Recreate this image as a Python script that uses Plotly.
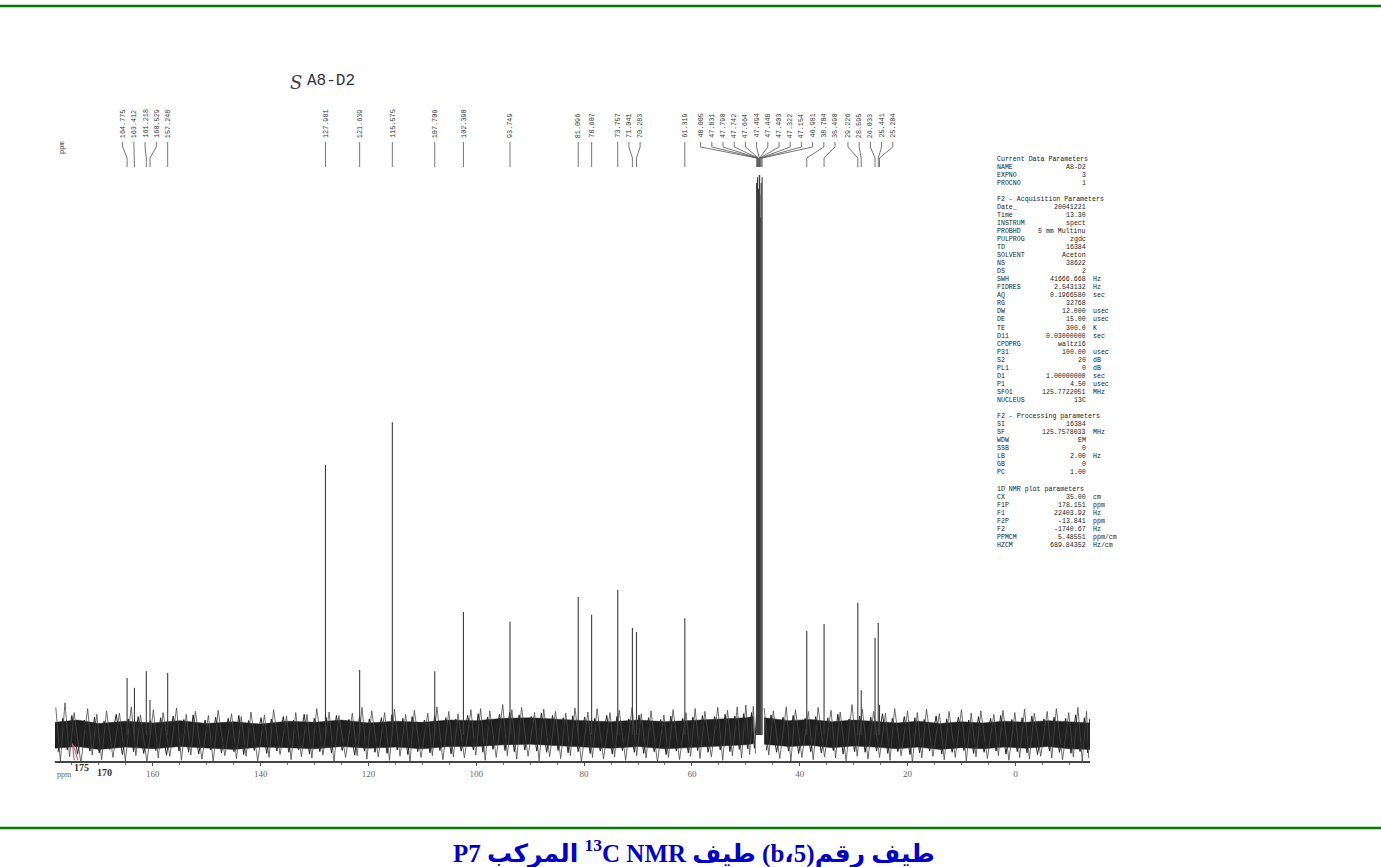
import plotly.graph_objects as go

W, H = 1381, 867

# ---------------- data ----------------
peak_ppm = [164.775, 163.412, 161.218, 160.529, 157.248, 127.981, 121.639, 115.575,
            107.706, 102.390, 93.749, 81.096, 78.607, 73.757, 71.041, 70.283, 61.319,
            48.005, 47.831, 47.790, 47.742, 47.664, 47.494, 47.448, 47.403, 47.322,
            47.154, 46.981, 38.704, 35.490, 29.226, 28.595, 26.033, 25.441, 25.204]
peak_int = [9.9, 8.2, 11.1, 6.1, 10.8, 47.0, 11.3, 54.4,
            11.1, 21.4, 19.7, 24.0, 20.9, 25.2, 18.6, 17.9, 20.3,
            96.0, 97.0, 88.0, 92.0, 95.0, 100.0, 98.0, 94.0, 90.0,
            96.0, 97.0, 18.1, 19.3, 23.0, 7.8, 16.9, 19.5, 5.2]

# baseline noise: positions of the main spikes with their tops (hi) and the following dips (lo)
noise_ppm_left = [178.0, 176.3, 174.6, 172.1, 170.4, 168.6, 166.2, 164.0, 162.3, 159.9,
                  158.1, 155.6, 153.8, 152.1, 149.7, 147.9, 145.4, 143.6, 141.8, 139.3,
                  137.6, 135.2, 133.5, 131.4, 129.6, 127.3, 125.5, 123.0, 121.2, 119.4,
                  117.0, 115.2, 113.1, 111.5, 109.0, 107.3, 105.1, 103.4, 101.0, 99.2,
                  97.5, 95.1, 93.4, 91.6, 89.2, 87.5, 85.3, 83.4, 81.7, 79.3,
                  77.6, 75.2, 73.5, 71.1, 69.4, 67.6, 65.2, 63.5, 61.1, 59.4,
                  57.6, 55.2, 53.4, 51.6, 50.0, 48.6]
noise_hi_left = [4.8, 5.6, 3.9, 4.6, 3.6, 4.2, 3.8, 4.9, 3.5, 4.4,
                 3.9, 4.7, 3.6, 4.1, 3.4, 4.3, 3.7, 3.2, 4.0, 3.5,
                 4.4, 3.3, 3.9, 3.6, 4.6, 4.0, 3.4, 3.8, 4.8, 4.2,
                 3.9, 4.5, 3.6, 4.3, 3.8, 4.9, 4.1, 3.7, 4.4, 4.6,
                 4.2, 5.3, 4.4, 4.8, 3.9, 4.5, 4.1, 3.8, 4.7, 4.0,
                 4.6, 3.9, 4.3, 4.8, 3.7, 4.2, 3.5, 4.4, 3.9, 4.6,
                 4.1, 4.8, 4.3, 4.9, 5.2, 5.0]
noise_lo_left = [-4.6, -3.8, -4.9, -3.5, -4.3, -3.9, -4.5, -3.6, -4.7, -4.0,
                 -3.7, -4.4, -3.5, -4.2, -4.8, -3.6, -4.1, -3.7, -4.5, -3.9,
                 -3.4, -4.3, -3.8, -4.0, -3.5, -4.6, -3.9, -3.6, -4.2, -3.8,
                 -4.4, -3.7, -4.9, -3.9, -3.6, -4.3, -3.8, -4.0, -3.5, -4.4,
                 -3.9, -3.6, -4.2, -3.7, -4.5, -3.8, -4.1, -3.6, -4.6, -3.9,
                 -4.2, -3.8, -4.4, -3.6, -4.0, -4.7, -3.9, -4.3, -3.7, -4.1,
                 -3.8, -4.4, -3.6, -4.0, -3.4, -3.2]
noise_ppm_right = [46.6, 44.9, 42.5, 40.8, 38.4, 36.6, 34.2, 32.5, 30.3, 28.4,
                   26.3, 24.1, 22.4, 20.0, 18.2, 16.5, 14.1, 12.3, 10.0, 8.2,
                   6.4, 4.0, 2.3, 0.1, -1.7, -3.5, -5.9, -7.6, -9.9, -11.6, -13.2]
noise_hi_right = [4.7, 4.2, 4.9, 4.4, 4.1, 4.8, 4.3, 4.0, 5.3, 4.5,
                  4.1, 3.8, 4.6, 4.2, 3.9, 4.5, 3.7, 4.1, 4.4, 3.8,
                  4.2, 3.6, 4.3, 3.9, 4.5, 3.8, 4.1, 4.6, 3.9, 4.8, 4.1]
noise_lo_right = [-3.5, -4.1, -4.6, -3.9, -4.3, -3.8, -4.0, -4.5, -3.7, -4.2,
                  -3.9, -4.4, -3.6, -4.8, -4.0, -3.7, -4.3, -3.9, -4.5, -3.8,
                  -4.1, -3.6, -4.4, -3.9, -4.2, -3.7, -4.0, -4.3, -3.8, -4.6, -4.0]
# smaller excursions between the main spikes
noise_mid_hi = [2.9, 3.4, 2.6, 3.1, 2.4, 3.6, 2.8, 3.2, 2.5, 3.0,
                3.3, 2.7, 3.5, 2.6, 3.1, 2.9, 3.4, 2.5, 3.0, 2.8,
                3.2, 2.6, 3.6, 2.9, 3.1, 3.4, 2.7, 3.3, 2.8, 3.0,
                3.5, 2.9, 3.2, 2.6, 3.3, 3.0, 2.8, 3.4, 3.7, 3.1,
                3.6, 3.9, 3.5, 3.2, 3.8, 3.4, 3.0, 3.3, 3.1, 2.9,
                3.4, 3.2, 2.8, 3.5, 3.0, 2.7, 3.3, 2.9, 3.1, 3.4,
                3.2, 3.6, 3.3, 3.7, 3.9, 3.6]
noise_mid_lo = [-3.0, -2.6, -3.3, -2.8, -3.1, -2.5, -3.4, -2.9, -3.2, -2.7,
                -3.5, -2.8, -3.0, -3.3, -2.6, -3.1, -2.9, -3.4, -2.7, -3.2,
                -2.8, -3.0, -2.6, -3.3, -2.9, -3.1, -2.7, -3.5, -2.8, -3.0,
                -3.2, -2.6, -3.4, -2.9, -3.1, -2.7, -3.3, -2.8, -2.6, -3.0,
                -2.5, -2.7, -2.9, -2.6, -2.8, -3.0, -2.7, -3.1, -2.9, -3.2,
                -2.8, -3.3, -2.7, -3.0, -3.2, -2.9, -3.4, -2.8, -3.1, -2.7,
                -3.0, -2.6, -2.9, -2.5, -2.4, -2.3]
noise_mid_hi_r = [3.5, 3.1, 3.4, 2.9, 3.2, 3.0, 3.6, 2.8, 3.3, 3.1,
                  3.7, 2.9, 3.2, 3.0, 2.7, 3.3, 2.8, 3.1, 2.6, 3.2,
                  2.9, 3.4, 2.7, 3.0, 3.3, 2.8, 3.1, 2.9, 3.5, 3.0, 2.8]
noise_mid_lo_r = [-2.6, -3.0, -2.8, -3.2, -2.9, -3.1, -2.7, -3.3, -2.9, -3.0,
                  -2.8, -3.2, -2.9, -3.4, -3.1, -2.8, -3.3, -3.0, -2.7, -3.2,
                  -3.0, -2.8, -3.3, -2.9, -3.1, -3.4, -2.8, -3.0, -3.2, -2.9, -3.1]
# dense core of the noise band
core_ppm_left = [178.151, 174, 170, 165, 160, 155, 150, 145, 140, 135, 130, 125, 120, 115,
                 110, 105, 100, 95, 90, 85, 80, 75, 70, 65, 60, 55, 50, 48.6]
core_hi_left = [2.2, 2.6, 2.0, 2.4, 2.1, 2.5, 2.0, 2.3, 1.9, 2.4, 2.2, 2.6, 2.1, 2.4,
                2.2, 2.6, 2.5, 2.9, 3.0, 2.7, 2.5, 2.3, 2.6, 2.3, 2.5, 2.8, 3.0, 3.2]
core_lo_left = [-2.3, -2.0, -2.5, -2.1, -2.4, -2.0, -2.3, -2.5, -2.1, -2.2, -2.4, -2.0, -2.3, -2.1,
                -2.4, -2.0, -2.0, -1.7, -1.6, -1.9, -2.1, -2.3, -2.0, -2.4, -2.1, -1.9, -1.7, -1.5]
core_ppm_right = [46.6, 42, 38, 34, 30, 26, 22, 18, 14, 10, 6, 2, -2, -6, -10, -13.841]
core_hi_right = [3.0, 2.5, 2.7, 2.3, 2.6, 2.4, 2.1, 2.4, 2.0, 2.3, 2.1, 2.4, 2.2, 2.5, 2.3, 2.1]
core_lo_right = [-1.6, -2.0, -1.8, -2.2, -1.9, -2.1, -2.4, -2.1, -2.5, -2.2, -2.4, -2.1, -2.3, -2.0, -2.4, -2.5]

x_ticks = [160, 140, 120, 100, 80, 60, 40, 20, 0]
hand_labels = ["175", "170"]
hand_label_ppm = [175, 170]

params = [
    ("Current Data Parameters", "", ""), ("NAME", "A8-D2", ""), ("EXPNO", "3", ""),
    ("PROCNO", "1", ""), None,
    ("F2 - Acquisition Parameters", "", ""), ("Date_", "20041221", ""), ("Time", "13.30", ""),
    ("INSTRUM", "spect", ""), ("PROBHD", "5 mm Multinu", ""), ("PULPROG", "zgdc", ""),
    ("TD", "16384", ""), ("SOLVENT", "Aceton", ""), ("NS", "38622", ""), ("DS", "2", ""),
    ("SWH", "41666.668", "Hz"), ("FIDRES", "2.543132", "Hz"), ("AQ", "0.1966580", "sec"),
    ("RG", "32768", ""), ("DW", "12.000", "usec"), ("DE", "15.00", "usec"),
    ("TE", "300.0", "K"), ("D11", "0.03000000", "sec"), ("CPDPRG", "waltz16", ""),
    ("P31", "100.00", "usec"), ("S2", "20", "dB"), ("PL1", "0", "dB"),
    ("D1", "1.00000000", "sec"), ("P1", "4.50", "usec"), ("SFO1", "125.7722051", "MHz"),
    ("NUCLEUS", "13C", ""), None,
    ("F2 - Processing parameters", "", ""), ("SI", "16384", ""),
    ("SF", "125.7578033", "MHz"), ("WDW", "EM", ""), ("SSB", "0", ""),
    ("LB", "2.00", "Hz"), ("GB", "0", ""), ("PC", "1.00", ""), None,
    ("1D NMR plot parameters", "", ""), ("CX", "35.00", "cm"), ("F1P", "178.151", "ppm"),
    ("F1", "22403.92", "Hz"), ("F2P", "-13.841", "ppm"), ("F2", "-1740.67", "Hz"),
    ("PPMCM", "5.48551", "ppm/cm"), ("HZCM", "689.84352", "Hz/cm"),
]

title_text = "A8-D2"
caption = "P7 المركب\u200e <sup>13</sup>C NMR طيف\u200e (b،5)طيف رقم"

# ---------------- layout helpers ----------------
X0, X1 = 55, 1090          # plot area in px
Y_AXIS, Y_TOP = 761, 150
BASE = 735
PX_PER_UNIT = 5.75
F1P, F2P = 178.151, -13.841
ppm_per_px = (F1P - F2P) / (X1 - X0)


def xp(px):
    return px / W


def yp(py):
    return 1 - py / H


fig = go.Figure()

segments = [
    (noise_ppm_left, noise_hi_left, noise_lo_left, noise_mid_hi, noise_mid_lo,
     core_ppm_left, core_hi_left, core_lo_left),
    (noise_ppm_right, noise_hi_right, noise_lo_right, noise_mid_hi_r, noise_mid_lo_r,
     core_ppm_right, core_hi_right, core_lo_right),
]
for nppm, nhi, nlo, mhi, mlo, cppm, chi, clo in segments:
    fig.add_trace(go.Scatter(x=cppm + cppm[::-1], y=chi + clo[::-1], fill="toself",
                             fillcolor="#1e1e1e", mode="lines", line=dict(color="#1e1e1e", width=0.5),
                             hoverinfo="skip", showlegend=False))
    n = len(nppm)
    zx, zy, mx, my = [], [], [], []
    for i in range(n):
        p = nppm[i]
        step = (nppm[i + 1] - p) if i + 1 < n else -0.8
        zx += [p, p + 0.5 * step]
        zy += [nhi[i], nlo[i]]
        mx += [p + 0.25 * step, p + 0.75 * step]
        my += [mlo[i], mhi[i]]
    fig.add_trace(go.Scatter(x=zx, y=zy, mode="lines", line=dict(color="#4a4a4a", width=0.8),
                             hoverinfo="skip", showlegend=False))
    fig.add_trace(go.Scatter(x=mx, y=my, mode="lines", line=dict(color="#262626", width=1),
                             hoverinfo="skip", showlegend=False))

# peaks
px_, py_ = [], []
for p, h in zip(peak_ppm, peak_int):
    px_ += [p, p, None]
    py_ += [0, h, None]
fig.add_trace(go.Scatter(x=px_, y=py_, mode="lines", line=dict(color="#3c3c3c", width=1.1),
                         hoverinfo="skip", showlegend=False))

# little pink pen mark near 175 ppm
fig.add_trace(go.Scatter(x=[174.7, 173.9, None, 174.9, 174.6], y=[-1.8, -4.4, None, -1.5, -4.4],
                         mode="lines", line=dict(color="#d0607a", width=1.2),
                         hoverinfo="skip", showlegend=False))

# ---------------- peak labels: clusters centred on their mean, merged while overlapping ----------------
gap = 11.2 * ppm_per_px
clusters = [[i] for i in sorted(range(len(peak_ppm)), key=lambda k: -peak_ppm[k])]


def place(cl):
    c = sum(peak_ppm[i] for i in cl) / len(cl)
    n = len(cl)
    return [c + gap * (n - 1) / 2 - gap * k for k in range(n)]


changed = True
while changed:
    changed = False
    pos = [place(c) for c in clusters]
    for k in range(len(clusters) - 1):
        if pos[k][-1] - pos[k + 1][0] < gap - 1e-9:
            clusters[k] = clusters[k] + clusters[k + 1]
            del clusters[k + 1]
            changed = True
            break
label_pos = [0.0] * len(peak_ppm)
for cl in clusters:
    for i, lx in zip(cl, place(cl)):
        label_pos[i] = lx

cx, cy = [], []
for i, p in enumerate(peak_ppm):
    lx = label_pos[i]
    cx += [lx, lx, p, p, None]
    cy += [142, 147, 158, 167, None]
fig.add_trace(go.Scatter(x=cx, y=cy, xaxis="x", yaxis="y2", mode="lines",
                         line=dict(color="#555555", width=0.8), hoverinfo="skip", showlegend=False))

annotations = []
for i, p in enumerate(peak_ppm):
    annotations.append(dict(x=label_pos[i], y=140, xref="x", yref="y2", text=f"{p:.3f}",
                            textangle=-90, showarrow=False, xanchor="center", yanchor="bottom",
                            font=dict(family="Liberation Mono", size=6.8, color="#333333")))

# hand written axis labels
annotations.append(dict(x=hand_label_ppm[0], y=yp(767), xref="x", yref="paper",
                        text=f"<b>{hand_labels[0]}</b>", showarrow=False, xanchor="left",
                        yanchor="middle", font=dict(family="Liberation Serif", size=10, color="#333333")))
annotations.append(dict(x=hand_label_ppm[1], y=yp(772), xref="x", yref="paper",
                        text=f"<b>{hand_labels[1]}</b>", showarrow=False, xanchor="left", xshift=-4,
                        yanchor="middle", font=dict(family="Liberation Serif", size=10, color="#333333")))
annotations.append(dict(x=xp(55), y=yp(774), xref="paper", yref="paper", text="ppm",
                        showarrow=False, xanchor="left", yanchor="middle",
                        font=dict(family="Liberation Serif", size=8, color="#666666")))
annotations.append(dict(x=xp(62), y=yp(148), xref="paper", yref="paper", text="ppm",
                        textangle=-90, showarrow=False, xanchor="center", yanchor="middle",
                        font=dict(family="Liberation Mono", size=7, color="#555555")))

# sample title
annotations.append(dict(x=xp(288), y=yp(82), xref="paper", yref="paper",
                        text="<i>S</i>", showarrow=False, xanchor="left", yanchor="middle",
                        font=dict(family="DejaVu Serif", size=18, color="#444444")))
annotations.append(dict(x=xp(305), y=yp(81), xref="paper", yref="paper",
                        text=title_text, showarrow=False, xanchor="left", yanchor="middle",
                        font=dict(family="Liberation Mono", size=16, color="#333333")))

# parameter block
row = 0
for item in params:
    yy = 159 + row * 8.05
    row += 1
    if item is None:
        continue
    name, val, unit = item
    f = dict(family="Liberation Mono", size=6.6, color="#222222")
    annotations.append(dict(x=xp(995), y=yp(yy), xref="paper", yref="paper", text=name,
                            showarrow=False, xanchor="left", yanchor="middle", font=f))
    if val:
        annotations.append(dict(x=xp(1088), y=yp(yy), xref="paper", yref="paper", text=val,
                                showarrow=False, xanchor="right", yanchor="middle", font=f))
    if unit:
        annotations.append(dict(x=xp(1091), y=yp(yy), xref="paper", yref="paper", text=unit,
                                showarrow=False, xanchor="left", yanchor="middle", font=f))

# caption
annotations.append(dict(x=xp(694), y=yp(852), xref="paper", yref="paper", text=f"<b>{caption}</b>",
                        showarrow=False, xanchor="center", yanchor="middle",
                        font=dict(family="Liberation Serif, DejaVu Sans", size=25, color="#0000CC")))

shapes = [
    dict(type="line", xref="paper", yref="paper", x0=0, x1=1, y0=yp(6), y1=yp(6),
         line=dict(color="#007A00", width=2.5)),
    dict(type="line", xref="paper", yref="paper", x0=0, x1=1, y0=yp(828), y1=yp(828),
         line=dict(color="#007A00", width=2.5)),
]

ymin = -(Y_AXIS - BASE) / PX_PER_UNIT
ymax = (BASE - Y_TOP) / PX_PER_UNIT

fig.update_layout(
    width=W, height=H, autosize=False,
    margin=dict(l=0, r=0, t=0, b=0),
    paper_bgcolor="white", plot_bgcolor="white",
    showlegend=False,
    xaxis=dict(domain=[xp(X0), xp(X1)], range=[F1P, F2P], anchor="y",
               showgrid=False, zeroline=False, showline=True, linecolor="#444444", linewidth=1.5,
               tickmode="array", tickvals=x_ticks, ticktext=[str(t) for t in x_ticks],
               ticks="outside", ticklen=3, tickcolor="#555555", tickwidth=1,
               minor=dict(dtick=5, tick0=0, ticks="outside", ticklen=2, tickcolor="#777777"),
               tickfont=dict(family="Liberation Serif", size=9, color="#666666")),
    yaxis=dict(domain=[yp(Y_AXIS), yp(Y_TOP)], range=[ymin, ymax], visible=False, fixedrange=True),
    yaxis2=dict(domain=[yp(175), yp(100)], range=[175, 100], visible=False, anchor="x"),
    annotations=annotations,
    shapes=shapes,
)

fig.write_html("out.html")
